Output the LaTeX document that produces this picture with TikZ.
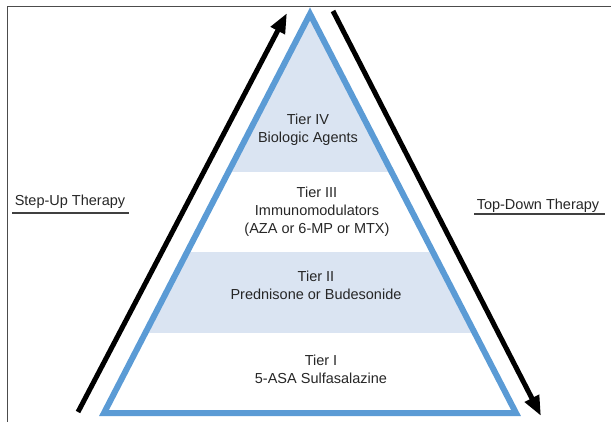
\documentclass[tikz,border=0pt]{standalone}
\usepackage{fontspec}
\setmainfont{Liberation Sans}
\usetikzlibrary{arrows.meta}
\definecolor{tierblue}{RGB}{91,155,213}
\definecolor{tierfill}{RGB}{218,228,242}

\begin{document}
\begin{tikzpicture}[x=1pt,y=-1pt]
        \useasboundingbox (0,0) rectangle (611,422);
        \draw[black!70,line width=1pt] (7,422) -- (7,7) -- (611,7);

        \coordinate (top) at (310,14);
        \coordinate (left) at (104,413);
        \coordinate (right) at (516,413);

        \begin{scope}
            \clip (top) -- (left) -- (right) -- cycle;
            \fill[tierfill] (0,0) rectangle (611,172);
            \fill[tierfill] (0,252) rectangle (611,333);
        \end{scope}
        \draw[tierblue,line width=6pt] (top) -- (left) -- (right) -- cycle;

        \coordinate (u1) at (78,412);
        \coordinate (u2) at (287,13);
        \coordinate (d1) at (333,11);
        \coordinate (d2) at (541,416);
        \begin{scope}[every edge/.style={draw,line width=5pt,-{Triangle[length=20pt,width=15pt]}}]
            \path (u1) edge (u2);
            \path (d1) edge (d2);
        \end{scope}

        \begin{scope}[every node/.style={align=center,font=\fontsize{14.5}{18}\selectfont,text=black!85}]
            \node (4) at (308,130) {Tier IV\\Biologic Agents};
            \node (3) at (317,212) {Tier III\\Immunomodulators\\(AZA or 6-MP or MTX)};
            \node (2) at (316,285) {Tier II\\Prednisone or Budesonide};
            \node (1) at (321,369) {Tier I\\5-ASA Sulfasalazine};

            \node (5) at (70,202) {Step-Up Therapy};
            \node (6) at (538,206) {Top-Down Therapy};
        \end{scope}
        \draw[black!75,line width=1.3pt] (12,213) -- (129,213);
        \draw[black!75,line width=1.3pt] (474,214) -- (605,214);
    \end{tikzpicture}
\end{document}
